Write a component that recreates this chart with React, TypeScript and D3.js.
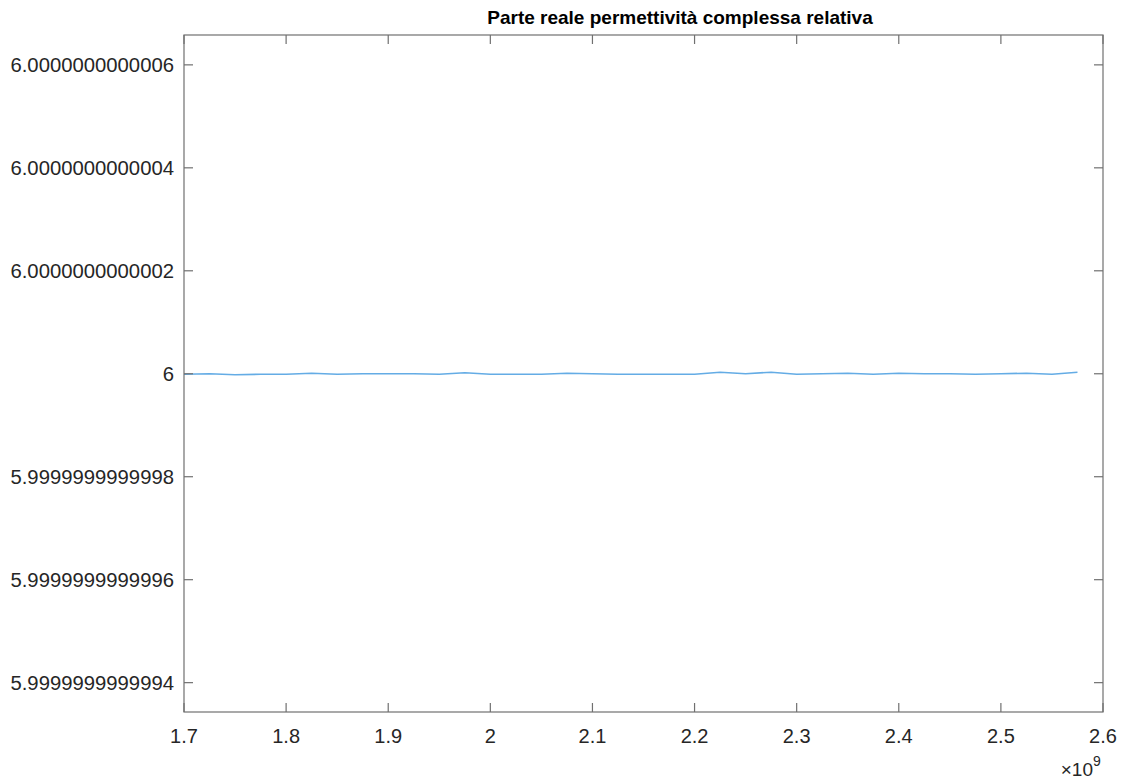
import React from "react";
import * as d3 from "d3";

// Frequency samples (×1e9 Hz)
const freqGHz: number[] = [
  1.7, 1.725, 1.75, 1.775, 1.8, 1.825, 1.85, 1.875, 1.9, 1.925, 1.95, 1.975,
  2.0, 2.025, 2.05, 2.075, 2.1, 2.125, 2.15, 2.175, 2.2, 2.225, 2.25, 2.275,
  2.3, 2.325, 2.35, 2.375, 2.4, 2.425, 2.45, 2.475, 2.5, 2.525, 2.55, 2.575,
];
// Deviation of the real relative permittivity from 6, in units of 1e-15
const deviationE15: number[] = [
  -1, 0, -2, -1, -1, 1, -1, 0, 0, 0, -1, 2,
  -1, -1, -1, 1, 0, -1, -1, -1, -1, 3, 0, 3,
  -1, 0, 1, -1, 1, 0, 0, -1, 0, 1, -1, 3,
];
const xTicks: number[] = [1.7, 1.8, 1.9, 2.0, 2.1, 2.2, 2.3, 2.4, 2.5, 2.6];
const xTickLabels: string[] = ["1.7", "1.8", "1.9", "2", "2.1", "2.2", "2.3", "2.4", "2.5", "2.6"];
// y ticks in units of 1e-15 deviation from 6
const yTicks: number[] = [600, 400, 200, 0, -200, -400, -600];
const yTickLabels: string[] = [
  "6.0000000000006",
  "6.0000000000004",
  "6.0000000000002",
  "6",
  "5.9999999999998",
  "5.9999999999996",
  "5.9999999999994",
];
const title = "Parte reale permettività complessa relativa";

export default function App() {
  const W = 1127, H = 783;
  const left = 184, right = 1103, top = 35, bottom = 712;
  const x = d3.scaleLinear().domain([1.7, 2.6]).range([left, right]);
  const y = d3.scaleLinear().domain([-657, 658]).range([bottom, top]);
  const line = d3
    .line<number>()
    .x((_, i) => x(freqGHz[i]))
    .y((d) => y(d));
  const axisColor = "#707070";
  const textColor = "#262626";
  const tickLen = 9;
  const font = "'Liberation Sans', Arial, Helvetica, sans-serif";
  return (
    <svg width={W} height={H} style={{ position: "absolute", left: 0, top: 0, background: "#fff" }}>
      <rect x={0} y={0} width={W} height={H} fill="#fff" />
      <text x={680} y={24} textAnchor="middle" fontFamily={font} fontWeight="bold" fontSize={19} fill="#000">
        {title}
      </text>
      <path d={line(deviationE15) || ""} fill="none" stroke="#64ace5" strokeWidth={1.6} />
      <rect x={left} y={top} width={right - left} height={bottom - top} fill="none" stroke={axisColor} strokeWidth={1.2} />
      {xTicks.map((t, i) => (
        <g key={"x" + i}>
          <line x1={x(t)} x2={x(t)} y1={bottom} y2={bottom - tickLen} stroke={axisColor} strokeWidth={1.2} />
          <line x1={x(t)} x2={x(t)} y1={top} y2={top + tickLen} stroke={axisColor} strokeWidth={1.2} />
          <text x={x(t)} y={743} textAnchor="middle" fontFamily={font} fontSize={20} fill={textColor}>
            {xTickLabels[i]}
          </text>
        </g>
      ))}
      {yTicks.map((t, i) => (
        <g key={"y" + i}>
          <line x1={left} x2={left + tickLen} y1={y(t)} y2={y(t)} stroke={axisColor} strokeWidth={1.2} />
          <line x1={right} x2={right - tickLen} y1={y(t)} y2={y(t)} stroke={axisColor} strokeWidth={1.2} />
          <text x={174} y={y(t) + 7} textAnchor="end" fontFamily={font} fontSize={20.3} fill={textColor}>
            {yTickLabels[i]}
          </text>
        </g>
      ))}
      <text x={1093} y={776} textAnchor="end" fontFamily={font} fontSize={19} fill={textColor}>
        ×10
      </text>
      <text x={1093} y={766} fontFamily={font} fontSize={14} fill={textColor}>
        9
      </text>
    </svg>
  );
}
